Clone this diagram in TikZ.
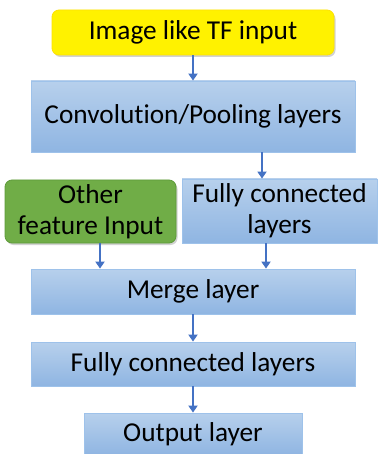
\documentclass[tikz,border=0pt]{standalone}
\usepackage{fontspec}
\setmainfont[Ligatures=NoCommon]{Carlito}
\usetikzlibrary{arrows.meta,shadows}
\definecolor{boxtop}{HTML}{B7D0EC}
\definecolor{boxbot}{HTML}{8FB5E2}
\definecolor{boxline}{HTML}{9EC2EA}
\definecolor{arrowblue}{HTML}{4472C4}
\definecolor{greenfill}{HTML}{70AD47}
\definecolor{greenline}{HTML}{5E9A3A}
\tikzset{
  layer/.style={draw=boxline, line width=0.8pt, top color=boxtop, bottom color=boxbot,
    font=\fontsize{27.3}{31}\selectfont, align=center, inner sep=0pt},
  inbox/.style={line width=0.8pt, rounded corners=7pt, font=\fontsize{27.3}{31}\selectfont,
    align=center, inner sep=0pt, drop shadow={shadow xshift=1.5pt, shadow yshift=-2pt, opacity=0.35, fill=gray}},
  arr/.style={draw=arrowblue, line width=2pt, -{Triangle[width=9pt,length=7pt]}}
}
\begin{document}
\begin{tikzpicture}[x=1pt,y=-1pt]
\useasboundingbox (0,0) rectangle (378,454);
\fill[white] (0,0) rectangle (378,454);
\node[inbox, fill=yellow, draw=yellow!85!orange, minimum width=282pt, minimum height=45pt] (img) at (193,32.5) {Image like TF input};
\node[layer, minimum width=324pt, minimum height=71pt] (conv) at (193,116.5) {Convolution/Pooling layers};
\node[inbox, fill=greenfill, draw=greenline, minimum width=171pt, minimum height=63pt] (other) at (90.5,211.5) {Other\\feature Input};
\node[layer, minimum width=195pt, minimum height=64pt] (fc1) at (279.5,211) {Fully connected\\layers};
\node[layer, minimum width=324pt, minimum height=45pt] (merge) at (193,291.5) {Merge layer};
\node[layer, minimum width=324pt, minimum height=44pt] (fc2) at (193,364) {Fully connected layers};
\node[layer, minimum width=218pt, minimum height=42pt] (out) at (193,434) {Output layer};
\draw[arr] (img.south) -- (conv.north);
\draw[arr] ([xshift=69pt]conv.south) -- ([xshift=-17.5pt]fc1.north);
\draw[arr] ([xshift=9.5pt]other.south) -- ([xshift=-93pt]merge.north);
\draw[arr] ([xshift=-13.5pt]fc1.south) -- ([xshift=73pt]merge.north);
\draw[arr] (merge.south) -- (fc2.north);
\draw[arr] (fc2.south) -- (out.north);
\end{tikzpicture}
\end{document}
